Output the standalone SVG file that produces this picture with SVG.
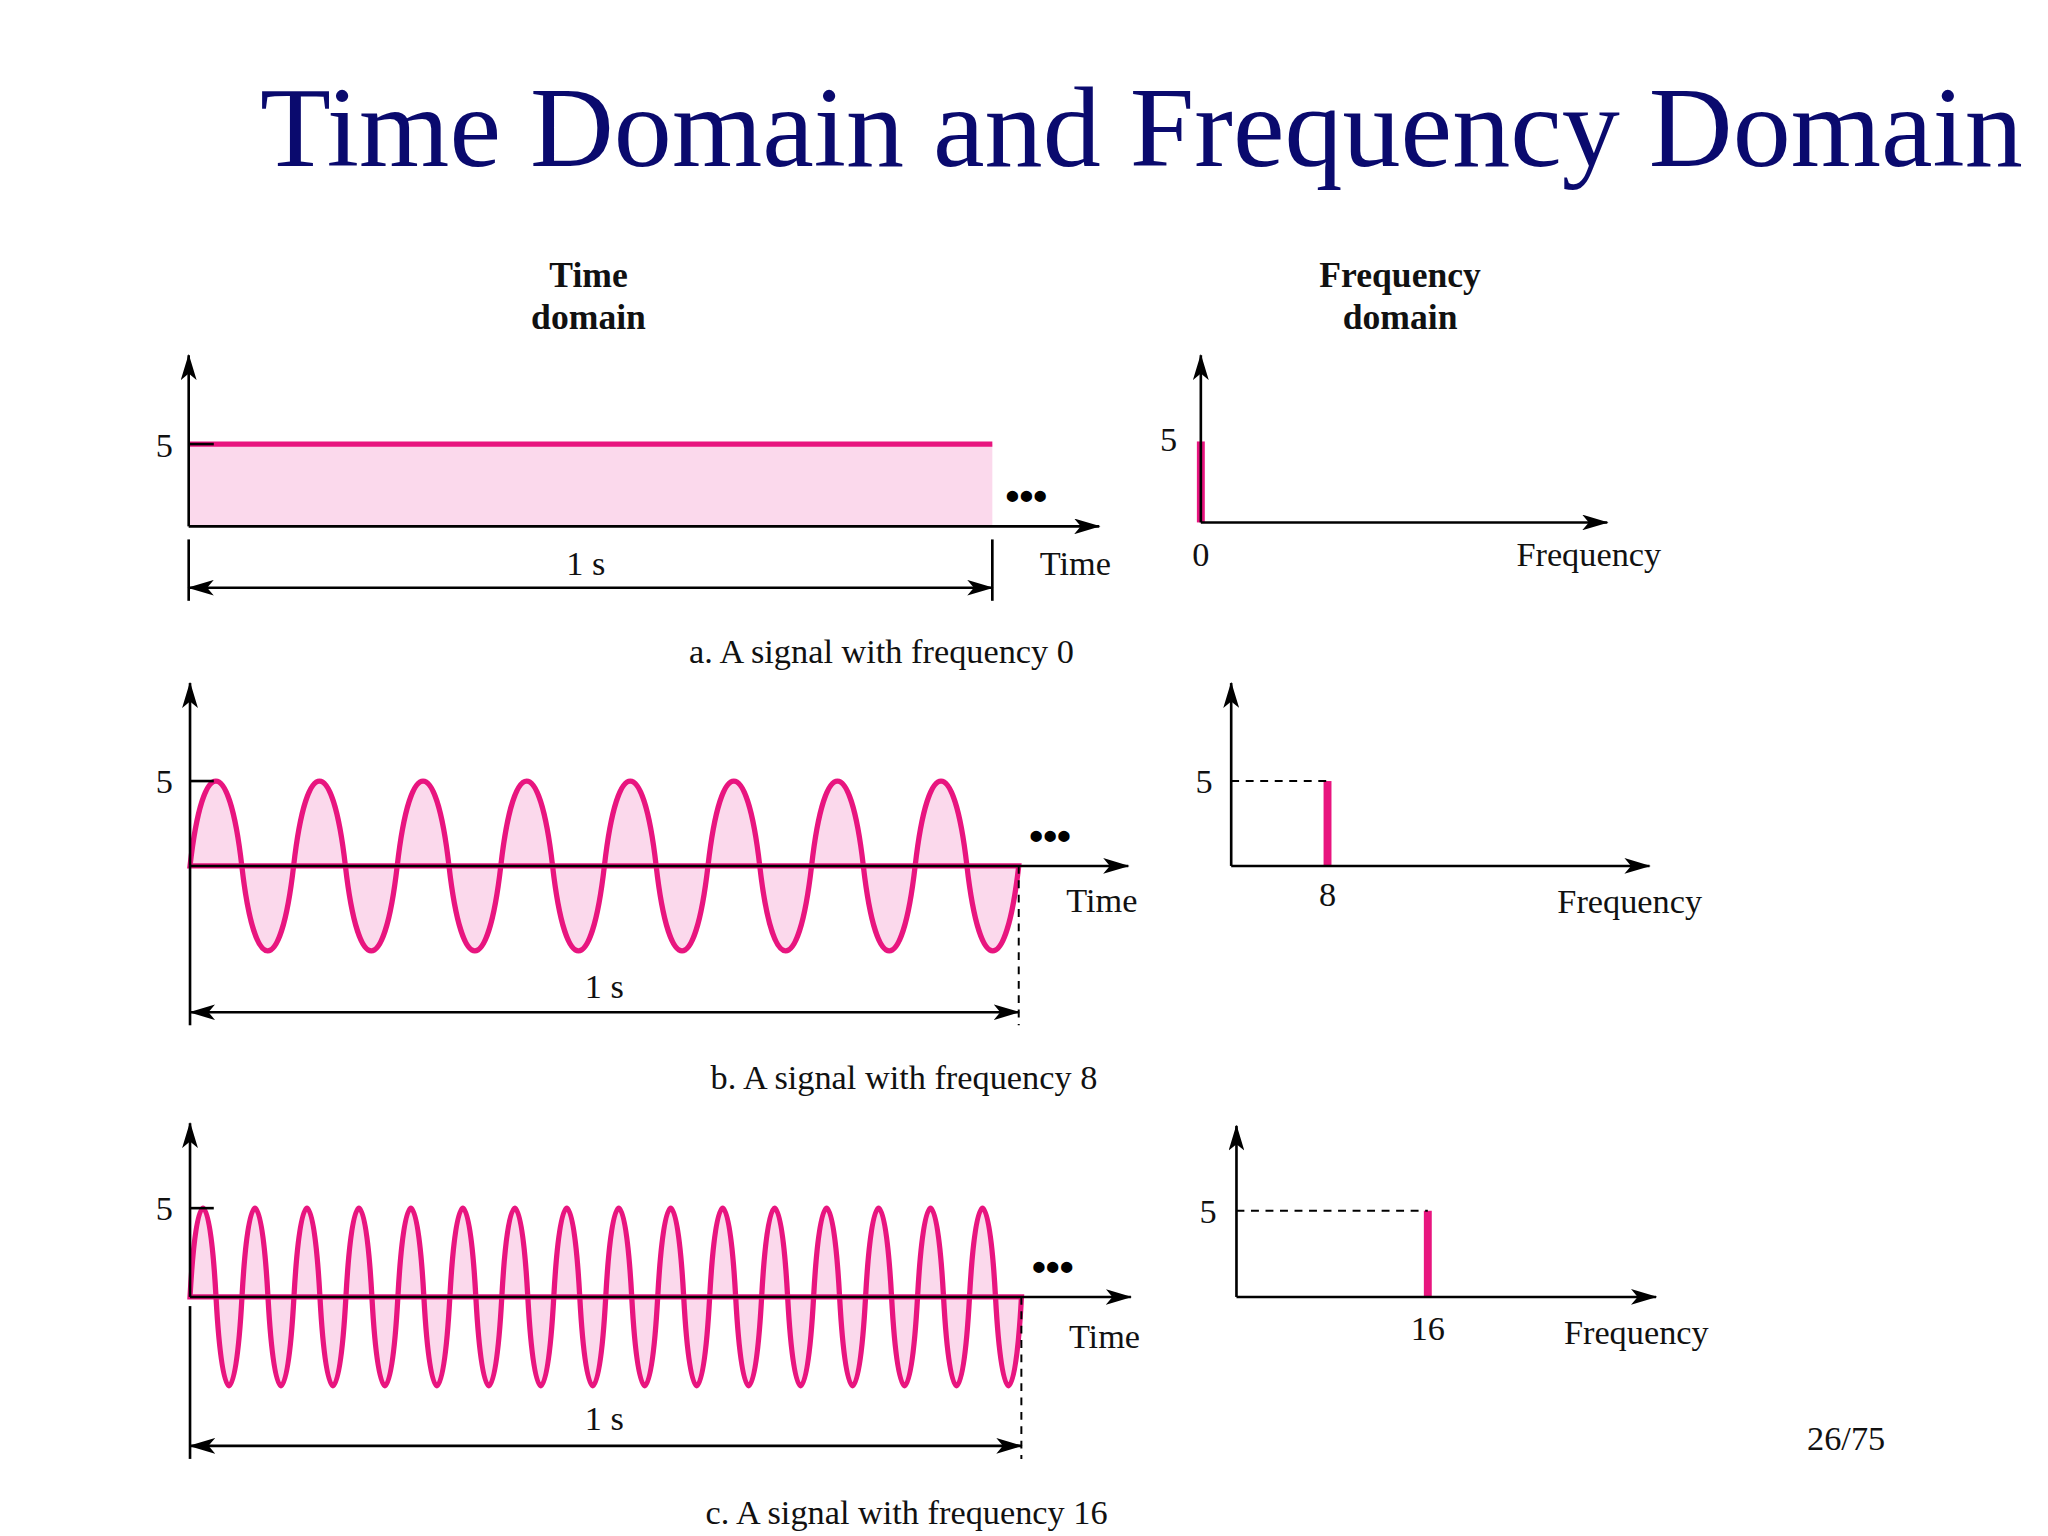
<svg xmlns="http://www.w3.org/2000/svg" width="2048" height="1536" viewBox="0 0 2048 1536">
<defs>
<marker id="ah" viewBox="0 0 20 12" refX="19" refY="6" markerWidth="20" markerHeight="12" markerUnits="userSpaceOnUse" orient="auto-start-reverse"><path d="M0,0 L20,6 L0,12 L5,6 Z" fill="#000"/></marker>
</defs>
<style>
.ax{stroke:#000;stroke-width:2;fill:none}
.ar{stroke:#000;stroke-width:2;fill:none;marker-end:url(#ah)}
.dim{stroke:#000;stroke-width:2;fill:none;marker-start:url(#ah);marker-end:url(#ah)}
.dash{stroke:#000;stroke-width:1.5;stroke-dasharray:6 5;fill:none}
.sig{stroke:#e8157f;stroke-width:4;fill:#fbd9ec}
.bar{fill:#e8157f}
.t{font-family:"Liberation Serif","DejaVu Serif",serif;font-size:26px;fill:#111}
.h{font-family:"Liberation Serif","DejaVu Serif",serif;font-size:27px;font-weight:bold;fill:#111;text-anchor:middle}
.m{text-anchor:middle}
.dots{font-family:"Liberation Sans",sans-serif;font-size:30px;font-weight:bold;fill:#000}
</style>
<rect width="2048" height="1536" fill="#fff"/>
<g transform="scale(1.3196,1.3061)">
<text x="865" y="127" text-anchor="middle" font-family="Liberation Serif, DejaVu Serif, serif" font-size="88" fill="#0a0a6e">Time Domain and Frequency Domain</text>
<g id="headers">
<text class="h" x="446" y="220">Time</text><text class="h" x="446" y="252">domain</text>
<text class="h" x="1061" y="220">Frequency</text><text class="h" x="1061" y="252">domain</text>
</g>
<g id="time-a">
<rect x="143" y="340" width="609" height="63" fill="#fbd9ec"/>
<line x1="143" y1="340" x2="752" y2="340" stroke="#e8157f" stroke-width="4"/>
<line class="ax" x1="143" y1="340" x2="162" y2="340"/>
<text class="t" x="118" y="350">5</text>
<text class="dots" x="762" y="390">•••</text>
<text class="t" x="788" y="440">Time</text>
<text class="t m" x="444" y="440">1 s</text>
<text class="t m" x="668" y="508">a. A signal with frequency 0</text>
</g>
<g id="freq-a">
<rect class="bar" x="907" y="338" width="6" height="62"/>
<text class="t" x="879" y="345">5</text>
<text class="t m" x="910" y="433">0</text>
<text class="t m" x="1204" y="433">Frequency</text>
</g>
<g id="time-b">
<path class="sig" d="M144,663 c9.8,-86.7 29.4,-86.7 39.25,0 c9.8,86.7 29.4,86.7 39.25,0 c9.8,-86.7 29.4,-86.7 39.25,0 c9.8,86.7 29.4,86.7 39.25,0 c9.8,-86.7 29.4,-86.7 39.25,0 c9.8,86.7 29.4,86.7 39.25,0 c9.8,-86.7 29.4,-86.7 39.25,0 c9.8,86.7 29.4,86.7 39.25,0 c9.8,-86.7 29.4,-86.7 39.25,0 c9.8,86.7 29.4,86.7 39.25,0 c9.8,-86.7 29.4,-86.7 39.25,0 c9.8,86.7 29.4,86.7 39.25,0 c9.8,-86.7 29.4,-86.7 39.25,0 c9.8,86.7 29.4,86.7 39.25,0 c9.8,-86.7 29.4,-86.7 39.25,0 c9.8,86.7 29.4,86.7 39.25,0 Z"/>
<line class="ax" x1="144" y1="598" x2="162" y2="598"/>
<text class="t" x="118" y="607">5</text>
<text class="dots" x="780" y="650">•••</text>
<text class="t" x="808" y="698">Time</text>
<text class="t m" x="458" y="764">1 s</text>
<text class="t m" x="685" y="834">b. A signal with frequency 8</text>
</g>
<g id="freq-b">
<rect class="bar" x="1003" y="598" width="6" height="65"/>
<text class="t" x="906" y="607">5</text>
<text class="t m" x="1006" y="694">8</text>
<text class="t m" x="1235" y="699">Frequency</text>
</g>
<g id="time-c">
<path class="sig" d="M144,993 c4.92,-90.7 14.77,-90.7 19.69,0 c4.92,90.7 14.77,90.7 19.69,0 c4.92,-90.7 14.77,-90.7 19.69,0 c4.92,90.7 14.77,90.7 19.69,0 c4.92,-90.7 14.77,-90.7 19.69,0 c4.92,90.7 14.77,90.7 19.69,0 c4.92,-90.7 14.77,-90.7 19.69,0 c4.92,90.7 14.77,90.7 19.69,0 c4.92,-90.7 14.77,-90.7 19.69,0 c4.92,90.7 14.77,90.7 19.69,0 c4.92,-90.7 14.77,-90.7 19.69,0 c4.92,90.7 14.77,90.7 19.69,0 c4.92,-90.7 14.77,-90.7 19.69,0 c4.92,90.7 14.77,90.7 19.69,0 c4.92,-90.7 14.77,-90.7 19.69,0 c4.92,90.7 14.77,90.7 19.69,0 c4.92,-90.7 14.77,-90.7 19.69,0 c4.92,90.7 14.77,90.7 19.69,0 c4.92,-90.7 14.77,-90.7 19.69,0 c4.92,90.7 14.77,90.7 19.69,0 c4.92,-90.7 14.77,-90.7 19.69,0 c4.92,90.7 14.77,90.7 19.69,0 c4.92,-90.7 14.77,-90.7 19.69,0 c4.92,90.7 14.77,90.7 19.69,0 c4.92,-90.7 14.77,-90.7 19.69,0 c4.92,90.7 14.77,90.7 19.69,0 c4.92,-90.7 14.77,-90.7 19.69,0 c4.92,90.7 14.77,90.7 19.69,0 c4.92,-90.7 14.77,-90.7 19.69,0 c4.92,90.7 14.77,90.7 19.69,0 c4.92,-90.7 14.77,-90.7 19.69,0 c4.92,90.7 14.77,90.7 19.69,0 Z"/>
<line class="ax" x1="144" y1="925" x2="162" y2="925"/>
<text class="t" x="118" y="934">5</text>
<text class="dots" x="782" y="980">•••</text>
<text class="t" x="810" y="1032">Time</text>
<text class="t m" x="458" y="1095">1 s</text>
<text class="t m" x="687" y="1167">c. A signal with frequency 16</text>
</g>
<g id="freq-c">
<rect class="bar" x="1079" y="927" width="6" height="66"/>
<text class="t" x="909" y="936">5</text>
<text class="t m" x="1082" y="1026">16</text>
<text class="t m" x="1240" y="1029">Frequency</text>
</g>
<text class="t m" x="1399" y="1110" font-size="28">26/75</text>
<g id="connectors">
<line class="ar" x1="143" y1="403" x2="143" y2="272"/>
<line class="ar" x1="143" y1="403" x2="833" y2="403"/>
<line class="ax" x1="143" y1="413" x2="143" y2="460"/>
<line class="ax" x1="752" y1="413" x2="752" y2="460"/>
<line class="dim" x1="143" y1="450" x2="752" y2="450"/>
<line class="ar" x1="910" y1="400" x2="910" y2="272"/>
<line class="ar" x1="910" y1="400" x2="1218" y2="400"/>
<line class="ar" x1="144" y1="663" x2="144" y2="523"/>
<line class="ar" x1="144" y1="663" x2="855" y2="663"/>
<line class="ax" x1="144" y1="663" x2="144" y2="785"/>
<line class="dash" x1="772" y1="663" x2="772" y2="785"/>
<line class="dim" x1="144" y1="775" x2="772" y2="775"/>
<line class="ar" x1="933" y1="663" x2="933" y2="523"/>
<line class="ar" x1="933" y1="663" x2="1250" y2="663"/>
<line class="dash" x1="933" y1="598" x2="1006" y2="598"/>
<line class="ar" x1="144" y1="993" x2="144" y2="860"/>
<line class="ar" x1="144" y1="993" x2="857" y2="993"/>
<line class="ax" x1="144" y1="1000" x2="144" y2="1117"/>
<line class="dash" x1="774" y1="993" x2="774" y2="1117"/>
<line class="dim" x1="144" y1="1107" x2="774" y2="1107"/>
<line class="ar" x1="937" y1="993" x2="937" y2="862"/>
<line class="ar" x1="937" y1="993" x2="1255" y2="993"/>
<line class="dash" x1="937" y1="927" x2="1082" y2="927"/>
</g>
</g>
</svg>
